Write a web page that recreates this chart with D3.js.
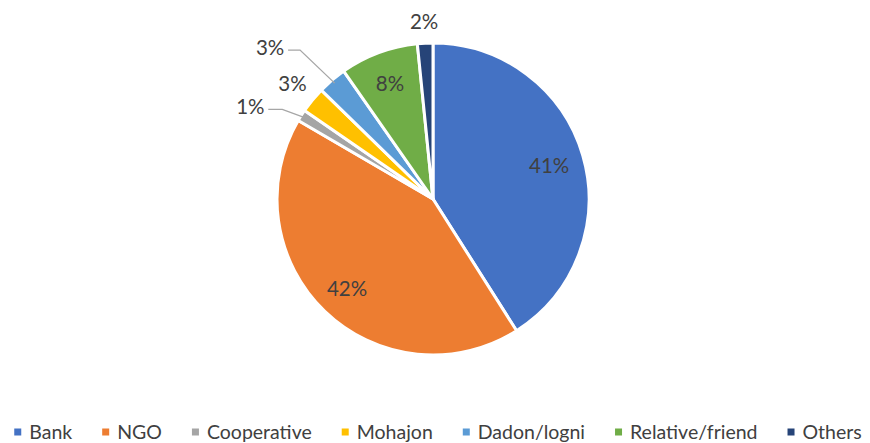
<!DOCTYPE html>
<html><head><meta charset="utf-8">
<script src="https://cdn.jsdelivr.net/npm/d3@7"></script>
<style>body{margin:0;background:#fff}svg{display:block}text{font-family:Lato,"Open Sans",sans-serif;fill:#404040}</style>
</head><body>
<svg id="c" width="870" height="443"></svg>
<script>
const categories = ["Bank","NGO","Cooperative","Mohajon","Dadon/logni","Relative/friend","Others"];
const values = [41.0, 42.4, 1.2, 2.7, 3.0, 8.1, 1.6];
const labels = ["41%","42%","1%","3%","3%","8%","2%"];
const colors = ["#4472c4","#ed7d31","#a5a5a5","#ffc000","#5b9bd5","#70ad47","#264478"];

const svg = d3.select("#c");
const cx = 433, cy = 199, R = 156;
const data = categories.map((c,i)=>({cat:c, v:values[i], lab:labels[i], col:colors[i]}));
const pie = d3.pie().value(d=>d.v).sort(null);
const arcs = pie(data);
const arc = d3.arc().innerRadius(0).outerRadius(R);
const g = svg.append("g").attr("transform",`translate(${cx},${cy})`);
g.selectAll("path").data(arcs).join("path")
  .attr("d",arc).attr("fill",d=>d.data.col)
  .attr("stroke","#fff").attr("stroke-width",3).attr("stroke-linejoin","round");

const mid = d=>(d.startAngle+d.endAngle)/2;
const pt = (a,r)=>[r*Math.sin(a), -r*Math.cos(a)];
const place = {
  "Bank":{r:121}, "NGO":{r:124}, "Relative/friend":{r:124},
  "Others":{r:178}, "Mohajon":{r:182},
  "Dadon/logni":{leader:true, dx:-62, dy:-33, seg:12},
  "Cooperative":{leader:true, dx:-51, dy:-9, seg:14}
};
const LFS = 20.5;
arcs.forEach(d=>{
  const p = place[d.data.cat];
  const a = mid(d);
  let x,y;
  if(p.leader){
    const [ex,ey] = pt(a,R-4);
    const [ox,oy] = pt(a,R);
    x = ox + p.dx; y = oy + p.dy;
    const ly = y + 3;
    const lx0 = x + 18;
    g.append("polyline")
      .attr("points",`${lx0},${ly} ${lx0 + p.seg},${ly} ${ex},${ey}`)
      .attr("fill","none").attr("stroke","#a6a6a6").attr("stroke-width",1.3);
  } else {
    [x,y] = pt(a,p.r);
  }
  g.append("text").attr("x",x).attr("y",y).attr("text-anchor","middle")
    .attr("dominant-baseline","central").attr("font-size",LFS).text(d.data.lab);
});

// legend
const lg = svg.append("g");
let xpos = 0;
data.forEach(d=>{
  const it = lg.append("g").attr("transform",`translate(${xpos},0)`);
  it.append("rect").attr("x",0).attr("y",428.5).attr("width",7).attr("height",7).attr("fill",d.col);
  const t = it.append("text").attr("x",15).attr("y",439).attr("font-size",19.5).text(d.cat);
  const w = t.node().getComputedTextLength();
  xpos += 15 + w + 30;
});
const total = xpos - 30;
lg.attr("transform",`translate(${438 - total/2},0)`);
</script>
</body></html>
